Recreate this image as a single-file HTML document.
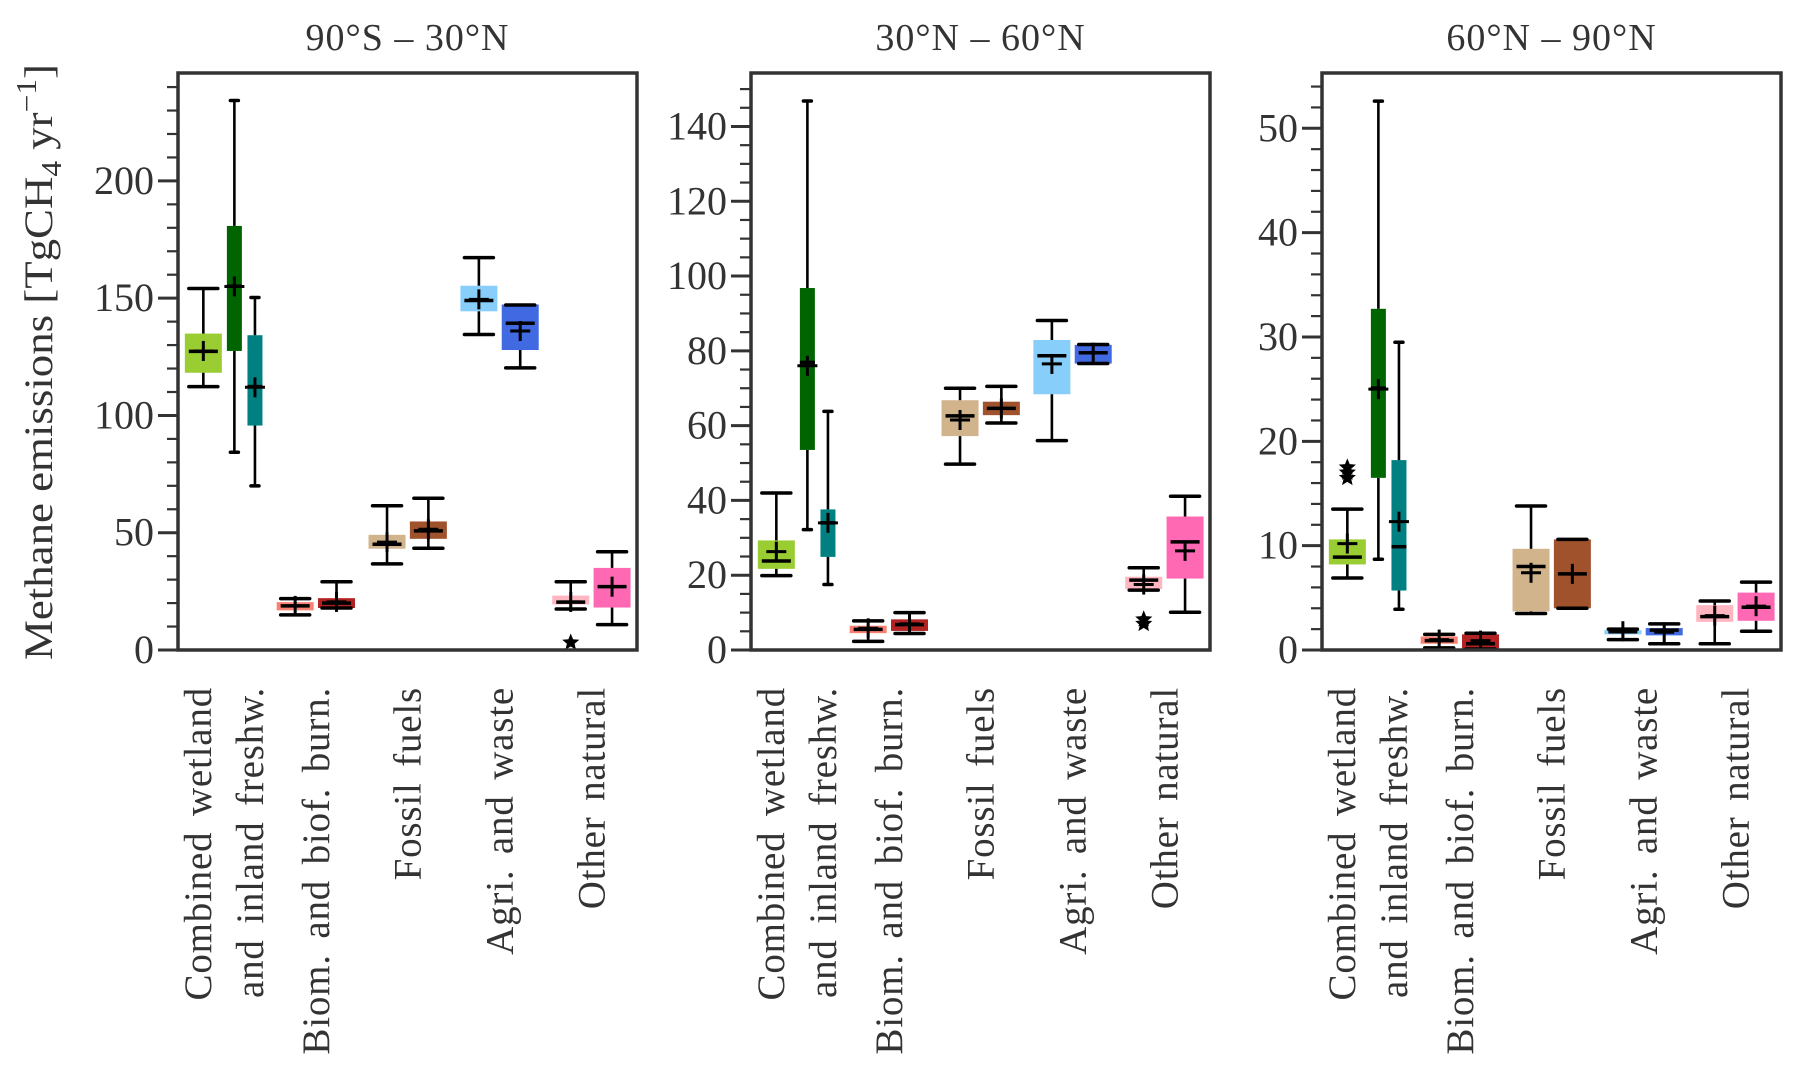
<!DOCTYPE html>
<html><head><meta charset="utf-8">
<style>
html,body{margin:0;padding:0;background:#fff;}
svg{display:block;font-family:"Liberation Serif",serif;}
</style></head>
<body>
<svg id="chart" width="1803" height="1075" viewBox="0 0 1803 1075" xmlns="http://www.w3.org/2000/svg">
<text transform="translate(52,362) rotate(-90)" text-anchor="middle" font-size="40" fill="#333" textLength="596" lengthAdjust="spacingAndGlyphs">Methane emissions  [TgCH<tspan font-size="28" dy="9">4</tspan><tspan dy="-9"> yr</tspan><tspan font-size="28" dy="-16">−1</tspan><tspan dy="16">]</tspan></text>
</svg>
<script>
// Category labels
const categories = ["Combined wetland\nand inland freshw.", "Biom. and biof. burn.", "Fossil fuels", "Agri. and waste", "Other natural"];
const seriesNames = ["combined","wetland","inland","biomass","biofuel","fossil-a","fossil-b","agri-a","agri-b","other-a","other-b"];
const colors = ["#9acd32","#006400","#008080","#fa8072","#b22222","#d2b48c","#a0522d","#87cefa","#4169e1","#ffb6c1","#ff69b4"];
const panelTitles = ["90°S  –  30°N","30°N  –  60°N","60°N  –  90°N"];
const yMax = [246, 154.3, 55.3];
const majorTicks = [[0,50,100,150,200],[0,20,40,60,80,100,120,140],[0,10,20,30,40,50]];
const minorStep = [10,5,2];
const minorTop = [240,150,54];
// per panel: [whisLo, q1, median, q3, whisHi, mean]
const p1 = [[112.3,118.2,127.3,134.9,154.1,127.5],[84.3,127.5,155.1,180.8,234.3,155],[70,95.7,112.3,134.2,150.3,112],
 [15,16.9,18.8,20.4,21.9,18.8],[17.9,17.9,20,22.1,29.1,20.5],[36.7,43.2,45.1,49.1,61.5,46],[43.4,47.4,50.8,54.8,64.7,51.5],
 [134.5,144.4,149,155.3,167.3,149.5],[120.3,127.9,139.3,147.3,147.1,136],[17.5,19.4,20.4,23.2,29.1,20.5],[10.8,18.1,27,35,41.9,27]];
const p2 = [[19.9,21.7,23.8,29.3,42,26.3],[32.2,53.5,76.9,96.8,146.8,76],[17.5,24.9,34,37.6,63.8,34],
 [2.3,4.5,5.5,6.5,7.8,5.8],[4.4,5.1,6.8,8.2,10,7],[49.7,57.2,62.6,66.8,70,61.5],[60.7,62.8,64.6,66.4,70.5,64.6],
 [56,68.4,78.7,82.9,88.1,76.5],[76.6,76.6,79.5,81.6,81.7,79.5],[16,16.3,18.7,19.6,22,17.5],[10.1,19.1,28.9,35.7,41.1,26.5]];
const p3 = [[6.9,8.2,8.9,10.6,13.5,10.2],[8.7,16.5,25.1,32.7,52.6,25],[3.9,5.7,9.9,18.2,29.5,12.3],
 [0.2,0.6,0.9,1.3,1.5,1.0],[0.1,0.1,0.6,1.5,1.6,0.9],[3.5,3.7,8,9.7,13.8,7.4],[4,4,7.3,10.6,10.6,7.3],
 [1.0,1.5,1.75,1.9,2.0,1.8],[0.6,1.4,1.9,2.1,2.5,1.7],[0.6,2.7,3.2,4.3,4.7,3.3],[1.8,2.8,4.1,5.5,6.5,4.2]];
const outliers1 = [[],[],[],[],[],[],[],[],[],[3.2],[]];
const outliers2 = [[],[],[],[],[],[],[],[],[],[8.2,7],[]];
const outliers3 = [[17.5,17,16.5],[],[],[],[],[],[],[],[],[],[]];

const panelData = [p1,p2,p3];
const panelOutliers = [outliers1,outliers2,outliers3];
const NS="http://www.w3.org/2000/svg";
const svg=document.getElementById('chart');
const axLeft=[178,751,1322], axW=459, axTop=73, axBot=650;
function mk(tag,attrs,parent){const e=document.createElementNS(NS,tag);for(const k in attrs)e.setAttribute(k,attrs[k]);(parent||svg).appendChild(e);return e;}
function slotX(i){
  if(i===0) return [0,-0.225,true];
  if(i===1) return [0,0.113,false];
  if(i===2) return [0,0.337,false];
  const g=Math.floor((i-3)/2)+1; const s=(i-3)%2;
  return [g, s===0?-0.225:0.225, true];
}
function star(cx,cy,r,parent){
  let pts=[];for(let k=0;k<10;k++){const a=-Math.PI/2+k*Math.PI/5;const rr=k%2?r*0.45:r;pts.push((cx+rr*Math.cos(a)).toFixed(1)+','+(cy+rr*Math.sin(a)).toFixed(1));}
  return mk('polygon',{points:pts.join(' '),fill:'#000'},parent);
}
for(let p=0;p<3;p++){
  const L=axLeft[p];
  const yS=v=>axBot-v*(axBot-axTop)/yMax[p];
  const gx=(g,off)=>L+46+g*91.85+off*91.85;
  const panel=mk('g',{});
  
  
  const t=mk('text',{x:L+axW/2,y:50,'text-anchor':'middle','font-size':38,fill:'#333','xml:space':'preserve','letter-spacing':'1'},panel);
  t.textContent=panelTitles[p];
  
  
  for(let v=0;v<=minorTop[p]+1e-6;v+=minorStep[p]){
    const y=yS(v);
    const isMaj=majorTicks[p].some(m=>Math.abs(m-v)<1e-6);
    const tk=mk('line',{x1:L-(isMaj?20:11),x2:L,y1:y,y2:y,stroke:'#333','stroke-width':isMaj?3:2.2},panel);
    
    
  }
  majorTicks[p].forEach(v=>{
    const tl=mk('text',{x:L-24,y:yS(v)+13,'text-anchor':'end','font-size':40,fill:'#333'},panel);
    tl.textContent=v;
    
    
  });
  const data=panelData[p];
  data.forEach((d,i)=>{
    const [g,off,wide]=slotX(i);
    const cx=gx(g,off);
    const bw=wide?37:15, cw=wide?29:8;
    const grp=mk('g',{},panel);
    
    
    const [lo,q1,med,q3,hi,mean]=d;
    mk('rect',{x:cx-bw/2,y:yS(q3),width:bw,height:Math.max(1.5,yS(q1)-yS(q3)),fill:colors[i]},grp);
    const sw=2.6;
    mk('line',{x1:cx,x2:cx,y1:yS(q3),y2:yS(hi),stroke:'#000','stroke-width':sw},grp);
    mk('line',{x1:cx,x2:cx,y1:yS(q1),y2:yS(lo),stroke:'#000','stroke-width':sw},grp);
    mk('line',{x1:cx-cw/2,x2:cx+cw/2,y1:yS(hi),y2:yS(hi),stroke:'#000','stroke-width':3.5,'stroke-linecap':'round'},grp);
    mk('line',{x1:cx-cw/2,x2:cx+cw/2,y1:yS(lo),y2:yS(lo),stroke:'#000','stroke-width':3.5,'stroke-linecap':'round'},grp);
    const mw=wide?29:15;
    mk('line',{x1:cx-mw/2,x2:cx+mw/2,y1:yS(med),y2:yS(med),stroke:'#000','stroke-width':3.5},grp);
    mk('line',{x1:cx-10,x2:cx+10,y1:yS(mean),y2:yS(mean),stroke:'#000','stroke-width':3},grp);
    mk('line',{x1:cx,x2:cx,y1:yS(mean)-10,y2:yS(mean)+10,stroke:'#000','stroke-width':3},grp);
    panelOutliers[p][i].forEach(v=>{
      const s=star(cx,yS(v),9,grp);
      
      
    });
  });
  categories.forEach((c,g)=>{
    const lines=c.split('\n');
    lines.forEach((ln,k)=>{
      const x = lines.length===2 ? gx(g,0)+(k===0?-26:26) : gx(g,0);
      const tx=mk('text',{transform:`translate(${x+13},687) rotate(-90)`,'text-anchor':'end','font-size':39,fill:'#333','letter-spacing':'0.8','word-spacing':'5'},panel);
      tx.textContent=ln;
      
      
    });
  });
  const fr=mk('rect',{x:L,y:axTop,width:axW,height:axBot-axTop,fill:'none',stroke:'#333','stroke-width':3.5},panel);
  
  
}
</script>
</body></html>
